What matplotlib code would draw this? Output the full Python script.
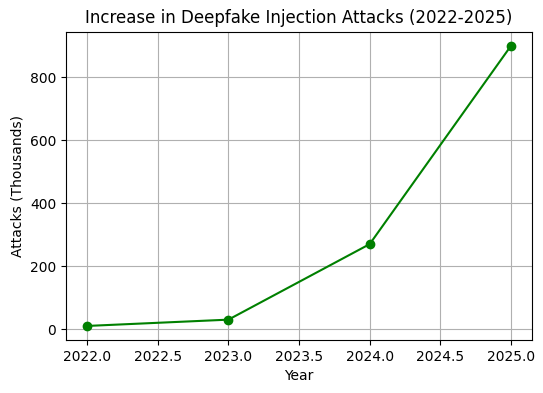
import matplotlib
matplotlib.use('Agg')
import matplotlib.pyplot as plt

years = [2022, 2023, 2024, 2025]
attacks = [10, 30, 270, 900]  # thousands

fig = plt.figure(figsize=(5.43, 3.93), dpi=100)
ax = fig.add_axes([0.1215, 0.135, 0.8585, 0.784])
ax.plot(years, attacks, marker='o', color='green')
ax.set_title('Increase in Deepfake Injection Attacks (2022-2025)')
ax.set_xlabel('Year')
ax.set_ylabel('Attacks (Thousands)')
ax.grid(True)
fig.savefig('out.png', dpi=100)
